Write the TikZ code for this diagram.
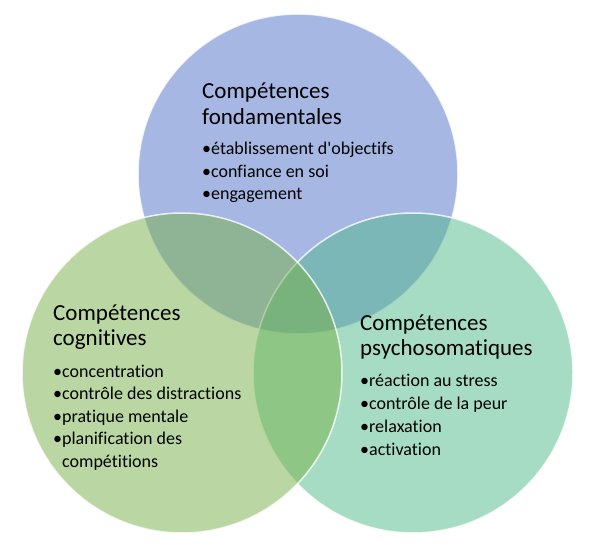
\documentclass[tikz,border=0pt]{standalone}
\usepackage{fontspec}
\setmainfont{Carlito}[Ligatures=NoCommon]
\usetikzlibrary{positioning}

\definecolor{fondblue}{RGB}{79,112,200}
\definecolor{psygreen}{RGB}{80,185,138}
\definecolor{coggreen}{RGB}{118,176,72}

\begin{document}
\begin{tikzpicture}[
    x=1pt, y=-1pt,
    venn/.style={circle, minimum size=320pt, inner sep=0pt, draw=white, line width=1.5pt, fill opacity=0.5, draw opacity=0.8},
    head/.style={anchor=base west, inner sep=0pt, font=\fontsize{23}{27}\selectfont},
    item/.style={anchor=base west, inner sep=0pt, font=\fontsize{18}{22}\selectfont}
]
\useasboundingbox (0,0) rectangle (599,553);

% Circles
\node[venn, fill=fondblue] (fond) at (298,174) {};
\node[venn, fill=psygreen] (psy) at (413,373) {};
\node[venn, fill=coggreen] (cog) at (182,373) {};

% Compétences fondamentales
\node[head] (fondA) at (202,99) {Compétences};
\node[head] (fondB) at (202,125) {fondamentales};
\foreach \t [count=\i] in {établissement d\textquotesingle objectifs, confiance en soi, engagement}
    \node[item] (fond\i) at (202,{155+22.5*(\i-1)}) {•\t};

% Compétences cognitives
\node[head] (cogA) at (53,320) {Compétences};
\node[head] (cogB) at (53,345) {cognitives};
\foreach \t [count=\i] in {concentration, contrôle des distractions, pratique mentale, planification des}
    \node[item] (cog\i) at (53,{377+22.5*(\i-1)}) {•\t};
\node[item] (cog5) at (62,467) {compétitions};

% Compétences psychosomatiques
\node[head] (psyA) at (360,330) {Compétences};
\node[head] (psyB) at (360,355) {psychosomatiques};
\foreach \t [count=\i] in {réaction au stress, contrôle de la peur, relaxation, activation}
    \node[item] (psy\i) at (360,{386.5+23*(\i-1)}) {•\t};

\end{tikzpicture}
\end{document}
